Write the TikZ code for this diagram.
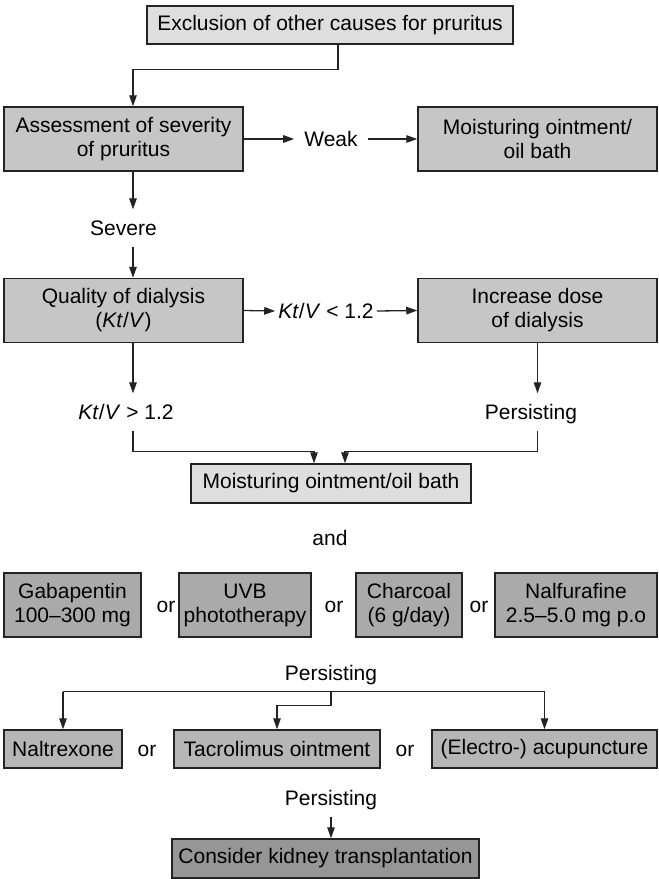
\documentclass[tikz,border=0pt]{standalone}
\usepackage{fontspec}
\setmainfont{Liberation Sans}
\usepackage{tikz}
\usetikzlibrary{
	arrows.meta,
	calc,
	positioning
}
\definecolor{PaleGrey}{RGB}{222,222,222}
\definecolor{MidGrey}{RGB}{198,198,198}
\definecolor{StepGrey}{RGB}{170,170,170}
\definecolor{ThirdGrey}{RGB}{182,182,182}
\definecolor{DeepGrey}{RGB}{150,150,150}
\definecolor{InkGrey}{RGB}{35,35,35}

\begin{document}
\begin{tikzpicture}[x=1pt, y=-1pt,
		font=\fontsize{21}{24}\selectfont,
		box/.style={draw=InkGrey, line width=1.5pt, inner sep=0pt, align=center, minimum height=64pt},
		lbl/.style={inner xsep=10pt, inner ysep=11pt, text height=15pt, text depth=0pt},
		arr/.style={InkGrey, line width=1.3pt, -{Triangle[length=11pt, width=7.5pt]}},
		ln/.style={InkGrey, line width=1.3pt}]
			\useasboundingbox (0,0) rectangle (659,879);
			\node[box, fill=PaleGrey, minimum width=366pt, minimum height=38pt] (excl) at (330,25) {Exclusion of other causes for pruritus};
			\node[box, fill=MidGrey, minimum width=239pt] (assess) at (123.5,139) {Assessment of severity\\of pruritus};
			\node[lbl] (weak) at (331,139) {Weak};
			\node[box, fill=MidGrey, minimum width=239pt] (moist) at (537.5,139) {Moisturing ointment/\\oil bath};
			\node[lbl] (severe) at (123.5,228) {Severe};
			\node[box, fill=MidGrey, minimum width=239pt] (quality) at (123.5,310.5) {Quality of dialysis\\(\textit{Kt}/\textit{V})};
			\node[lbl, inner xsep=3pt] (low) at (326,311) {\textit{Kt}/\textit{V} < 1.2};
			\node[box, fill=MidGrey, minimum width=239pt] (dose) at (537.5,310.5) {Increase dose\\of dialysis};
			\node[lbl] (high) at (126,412) {\textit{Kt}/\textit{V} > 1.2};
			\node[lbl] (pers1) at (531,412) {Persisting};
			\node[box, fill=PaleGrey, minimum width=280pt, minimum height=39pt] (oil) at (331,483.5) {Moisturing ointment/oil bath};
			\node[lbl] (and) at (330,538) {and};
			\node[box, fill=StepGrey, minimum width=137pt] (gaba) at (72.5,605) {Gabapentin\\100--300 mg};
			\node[lbl] (or1) at (166,605) {or};
			\node[box, fill=StepGrey, minimum width=132pt] (uvb) at (245,605) {UVB\\phototherapy};
			\node[lbl] (or2) at (334,605) {or};
			\node[box, fill=StepGrey, minimum width=106pt] (coal) at (409,605) {Charcoal\\(6 g/day)};
			\node[lbl] (or3) at (479,605) {or};
			\node[box, fill=StepGrey, minimum width=162pt] (nalf) at (576,605) {Nalfurafine\\2.5--5.0 mg p.o};
			\node[lbl] (pers2) at (331,673) {Persisting};
			\node[box, fill=ThirdGrey, minimum width=118pt, minimum height=38pt] (naltr) at (63,749) {Naltrexone};
			\node[lbl] (or4) at (147,749) {or};
			\node[box, fill=ThirdGrey, minimum width=206pt, minimum height=38pt] (tacro) at (277,749) {Tacrolimus ointment};
			\node[lbl] (or5) at (405,749) {or};
			\node[box, fill=ThirdGrey, minimum width=225pt, minimum height=38pt] (acu) at (544.5,749) {(Electro-) acupuncture};
			\node[lbl] (pers3) at (331,798) {Persisting};
			\node[box, fill=DeepGrey, minimum width=307pt, minimum height=39pt] (kidney) at (325.5,858.5) {Consider kidney transplantation};
			\draw[arr] ([xshift=8pt]excl.south) -- ++(0,25) -| ([xshift=9.5pt]assess.north);
			\draw[arr] (assess) -- (weak);
			\draw[arr] (weak) -- (moist);
			\draw[arr] ([xshift=9.5pt]assess.south) -- ([xshift=9.5pt]assess.south |- severe.north);
			\draw[arr] ([xshift=9.5pt]assess.south |- severe.south) -- ([xshift=9.5pt]quality.north);
			\draw[arr] (quality.east) -- (low.west);
			\draw[arr] (low.east) -- (dose.west);
			\draw[arr] ([xshift=9.5pt]quality.south) -- ([xshift=9.5pt]quality.south |- high.north);
			\draw[arr] (dose.south) -- (dose.south |- pers1.north);
			\draw[arr] ([xshift=9.5pt]quality.south |- high.south) -- ++(0,21) -| ([xshift=-17pt]oil.north);
			\draw[arr] (dose.south |- pers1.south) -- ++(0,21) -| ([xshift=14pt]oil.north);
			\draw[ln] (naltr.north |- pers2.south) -- (acu.north |- pers2.south);
			\draw[arr] (naltr.north |- pers2.south) -- (naltr.north);
			\draw[arr] (acu.north |- pers2.south) -- (acu.north);
			\draw[arr] (pers2.south) -- ++(0,14) -| (tacro.north);
			\draw[arr] (pers3.south) -- (pers3.south |- kidney.north);
		\end{tikzpicture}
\end{document}
